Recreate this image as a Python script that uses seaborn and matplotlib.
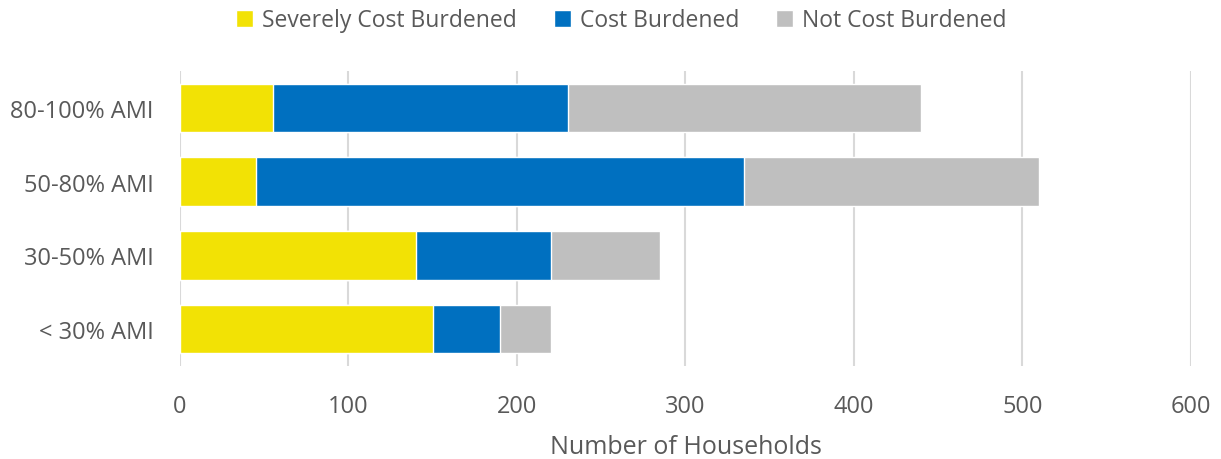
import pandas as pd
import matplotlib.pyplot as plt
import seaborn as sns

# Household cost burden by income band
categories = ['80-100% AMI', '50-80% AMI', '30-50% AMI', '< 30% AMI']
severely_burdened = [55, 45, 140, 150]
cost_burdened = [175, 290, 80, 40]
not_burdened = [210, 175, 65, 30]

series_names = ['Severely Cost Burdened', 'Cost Burdened', 'Not Cost Burdened']
colors = ['#F2E205', '#0070C0', '#BFBFBF']
text_color = '#595959'

sns.set_theme(style='white')
plt.rcParams['font.family'] = ['Open Sans', 'DejaVu Sans']

data = pd.DataFrame({
    'Category': categories,
    'Severe': severely_burdened,
    'Cost': cost_burdened,
    'Not': not_burdened,
})
# cumulative ends for stacking
data['cum1'] = data['Severe']
data['cum2'] = data['Severe'] + data['Cost']
data['cum3'] = data['cum2'] + data['Not']

fig = plt.figure(figsize=(12.21, 4.6), dpi=100)
ax = fig.add_axes([0.1474, 0.2022, 0.828, 0.6413])

# draw longest first so shorter segments sit on top
for col, color, name in zip(['cum3', 'cum2', 'cum1'], colors[::-1], series_names[::-1]):
    sns.barplot(data=data, x=col, y='Category', order=categories, color=color,
                width=0.66, saturation=1, ax=ax, label=name, zorder=3)

handles, labels = ax.get_legend_handles_labels()
if ax.get_legend() is not None:
    ax.get_legend().remove()

ax.set_xlim(0, 600)
ax.set_ylim(3.5, -0.5)
ax.set_xticks(range(0, 601, 100))
ax.grid(axis='x', color='#D9D9D9', linewidth=1.5, zorder=0)
ax.grid(axis='y', visible=False)
for s in ax.spines.values():
    s.set_visible(False)

ax.tick_params(axis='both', length=0, labelsize=17, colors=text_color)
ax.tick_params(axis='x', pad=20)
ax.tick_params(axis='y', pad=19)
ax.set_ylabel('')
ax.set_xlabel('Number of Households', fontsize=18, color=text_color, labelpad=12)

order = [labels.index(n) for n in series_names]
leg = fig.legend([handles[i] for i in order], series_names, loc='upper center',
                 bbox_to_anchor=(0.509, 1.025), ncol=3, frameon=False, fontsize=16.5,
                 handlelength=0.75, handleheight=0.75, handletextpad=0.4, columnspacing=1.6)
for t in leg.get_texts():
    t.set_color(text_color)

fig.savefig('out.png', dpi=100)
